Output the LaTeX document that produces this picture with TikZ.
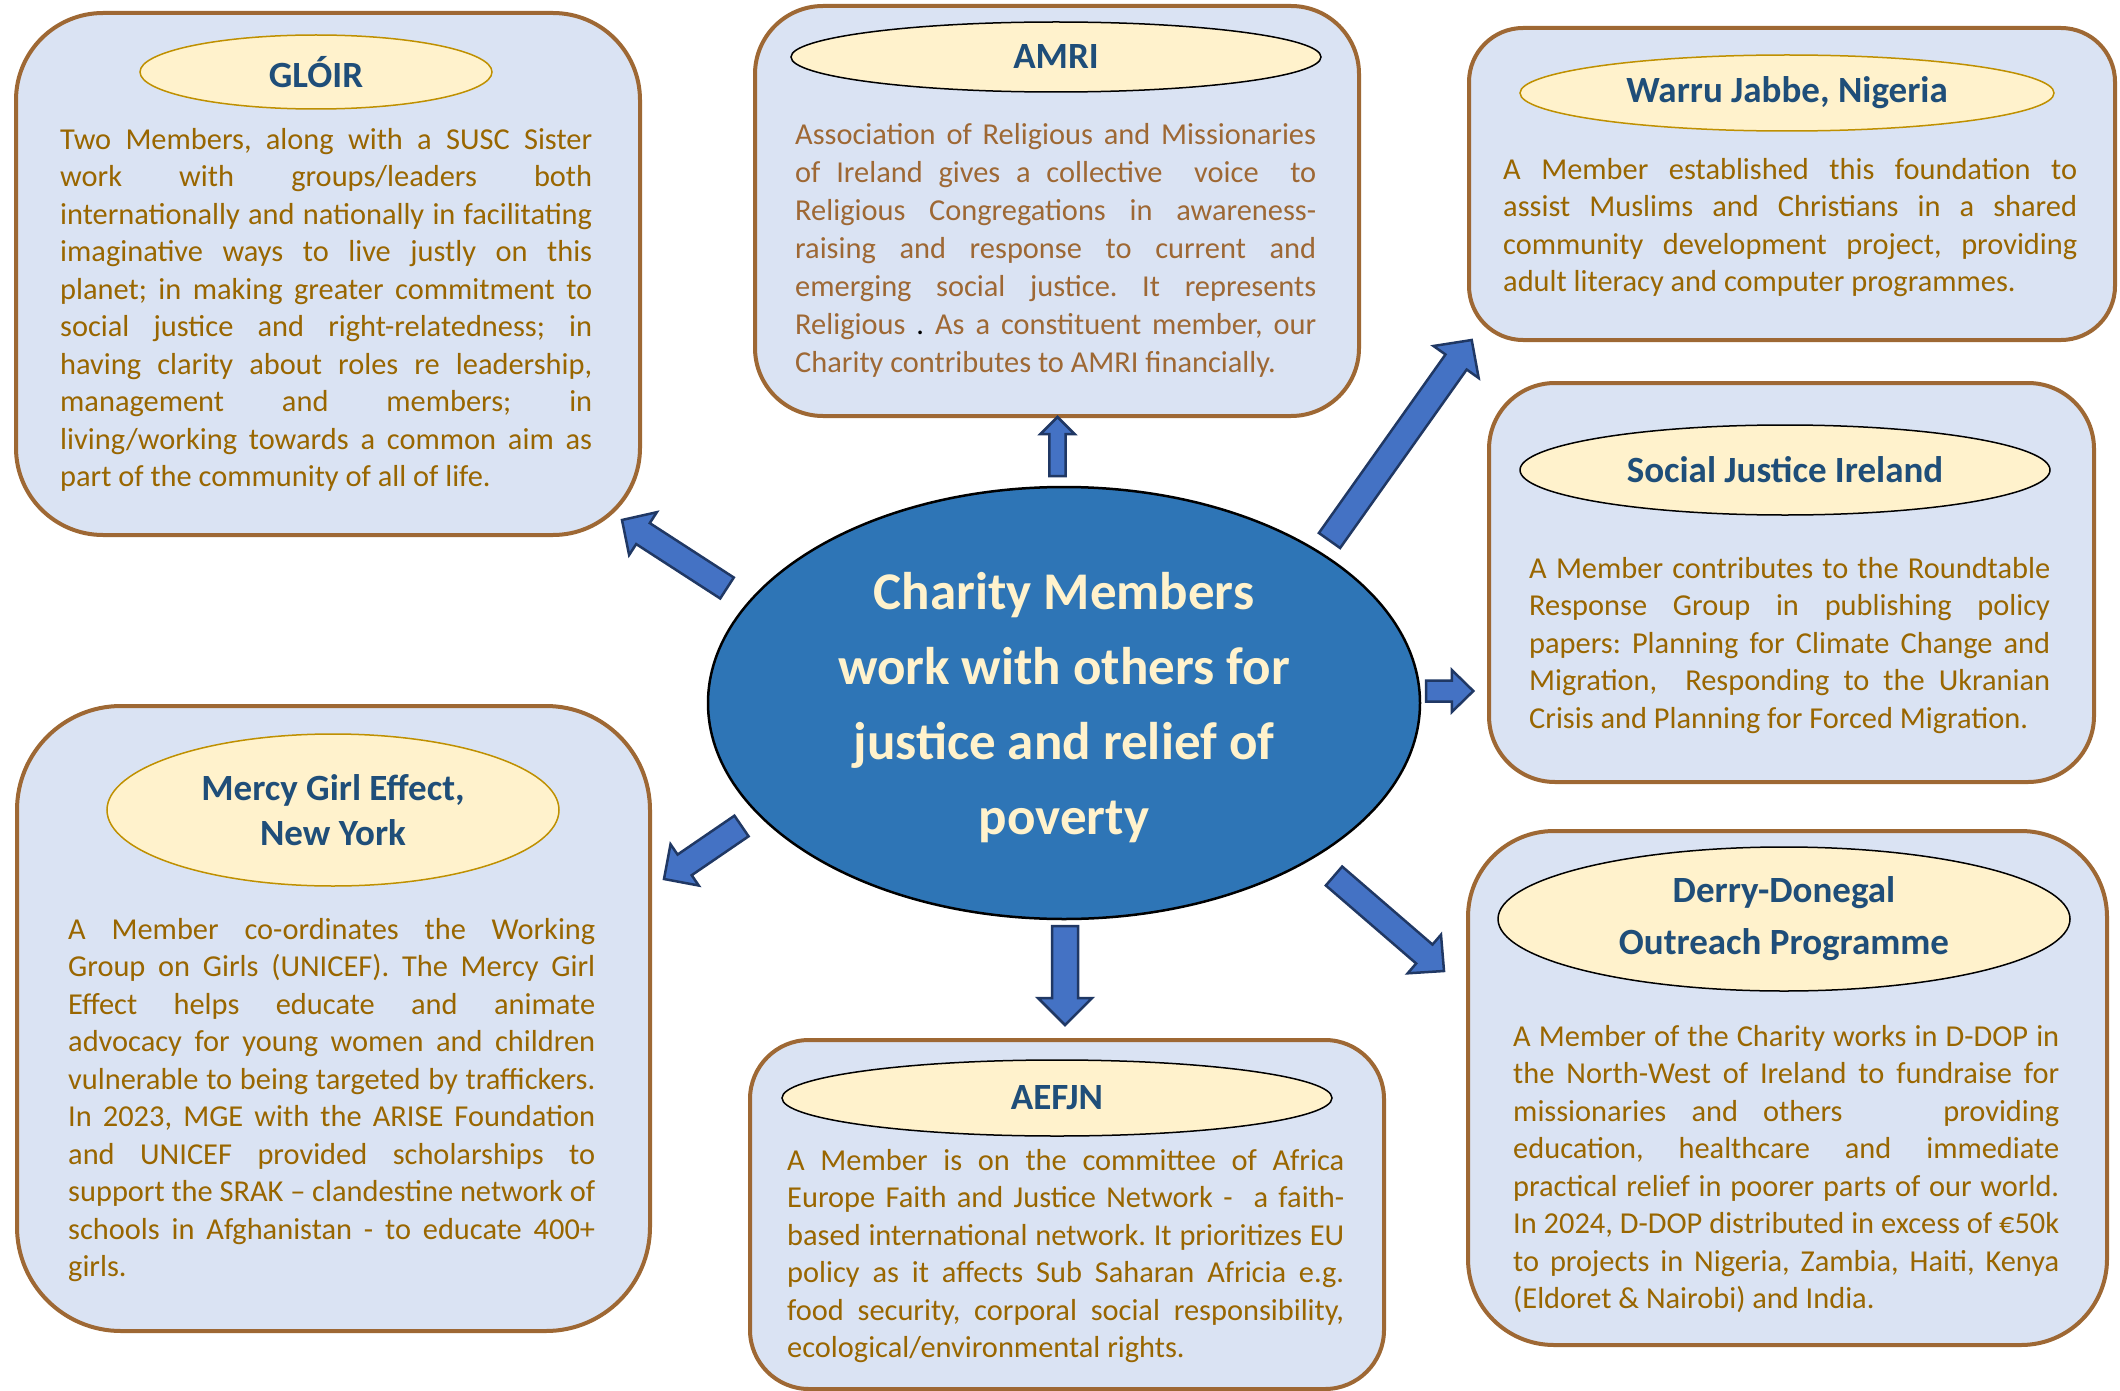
\documentclass[tikz,border=0pt]{standalone}
\usepackage{fontspec}
\setmainfont{Carlito}
\usetikzlibrary{calc,shapes.geometric}

\definecolor{cardfill}{HTML}{DAE3F3}
\definecolor{cardline}{RGB}{158,104,52}
\definecolor{tagfill}{HTML}{FFF2CC}
\definecolor{taggold}{HTML}{BF9000}
\definecolor{titleblue}{HTML}{1F4E79}
\definecolor{bodytxt}{RGB}{153,102,0}
\definecolor{amritxt}{RGB}{158,104,52}
\definecolor{hubfill}{HTML}{2E75B6}
\definecolor{hubtxt}{HTML}{FFF2CC}
\definecolor{arrfill}{HTML}{4472C4}
\definecolor{arrline}{HTML}{203864}

% plain interword spacing (undo the fixed spacing of align=left)
\newcommand\plainsp{\spaceskip=0pt\xspaceskip=0pt\frenchspacing}
% one fully justified line of a paragraph
\newcommand\jl[1]{\makebox[\hsize][s]{\plainsp #1}}

% block arrow: tail, tip, half shaft width, half head width, head length
\newcommand\blockarr[5]{%
  \coordinate (bh) at ($(#2)!#5!(#1)$);
  \draw[blockarrow] ($(#1)!#3!90:(#2)$) -- ($(bh)!#3!-90:(#1)$) -- ($(bh)!#4!-90:(#1)$)
    -- (#2) -- ($(bh)!#4!90:(#1)$) -- ($(bh)!#3!90:(#1)$) -- ($(#1)!#3!-90:(#2)$) -- cycle;}

\tikzset{
  card/.style={draw=cardline, fill=cardfill, line width=4pt, anchor=north west, inner sep=0pt},
  tag/.style={ellipse, draw=black, fill=tagfill, line width=1.5pt, inner sep=0pt,
    text=titleblue, font=\bfseries\fontsize{37}{45}\selectfont, align=center},
  taggold/.style={tag, draw=taggold},
  para/.style={anchor=north west, inner sep=0pt, align=left, text=bodytxt,
    font=\fontsize{30.4}{37.5}\selectfont},
  hub/.style={ellipse, draw=black, fill=hubfill, line width=2.5pt, inner sep=0pt},
  hubtext/.style={inner sep=0pt, text=hubtxt, align=center, font=\bfseries\fontsize{53}{75}\selectfont},
  blockarrow/.style={fill=arrfill, draw=arrline, line width=2.5pt, line join=miter}
}

\begin{document}
\begin{tikzpicture}[x=1pt,y=1pt]
\useasboundingbox (0,0) rectangle (2120,-1391);
\fill[white] (0,0) rectangle (2120,-1391);

% ---------- GLÓIR ----------
\node[card, minimum width=624pt, minimum height=522pt, rounded corners=87pt] (gloir) at (14,-11) {};
\node[taggold, minimum width=352pt, minimum height=74pt] (gloirh) at (316,-72) {GLÓIR};
\node[para, text width=532pt] (gloirt) at (60,-123) {\plainsp\strut\jl{Two Members, along with a SUSC Sister}\\
\jl{work with groups/leaders both}\\
\jl{internationally and nationally in facilitating}\\
\jl{imaginative ways to live justly on this}\\
\jl{planet; in making greater commitment to}\\
\jl{social justice and right-relatedness; in}\\
\jl{having clarity about roles re leadership,}\\
\jl{management and members; in}\\
\jl{living/working towards a common aim as}\\
part of the community of all of life.};

% ---------- AMRI ----------
\node[card, minimum width=604pt, minimum height=410pt, rounded corners=68pt] (amri) at (753,-4) {};
\node[tag, minimum width=530pt, minimum height=70pt] (amrih) at (1056,-57) {AMRI};
\node[para, text width=521pt, text=amritxt, font=\fontsize{30.4}{38}\selectfont] (amrit) at (795,-118) {\plainsp\strut\jl{Association of Religious and Missionaries}\\
\jl{of Ireland gives a collective\ \ voice\ \ to}\\
\jl{Religious Congregations in awareness-}\\
\jl{raising and response to current and}\\
\jl{emerging social justice. It represents}\\
\jl{Religious {\color{black}.} As a constituent member, our}\\
Charity contributes to AMRI financially.};

% ---------- Warru Jabbe ----------
\node[card, minimum width=646pt, minimum height=312pt, rounded corners=54pt] (warru) at (1467,-26) {};
\node[taggold, minimum width=534pt, minimum height=76pt] (warruh) at (1787,-93) {Warru Jabbe, Nigeria};
\node[para, text width=574pt] (warrut) at (1503,-153) {\plainsp\strut\jl{A Member established this foundation to}\\
\jl{assist Muslims and Christians in a shared}\\
\jl{community development project, providing}\\
adult literacy and computer programmes.};

% ---------- Social Justice Ireland ----------
\node[card, minimum width=605pt, minimum height=399pt, rounded corners=66pt] (sji) at (1487,-381) {};
\node[tag, minimum width=530pt, minimum height=90pt] (sjih) at (1785,-470) {Social Justice Ireland};
\node[para, text width=521pt] (sjit) at (1529,-552) {\plainsp\strut\jl{A Member contributes to the Roundtable}\\
\jl{Response Group in publishing policy}\\
\jl{papers: Planning for Climate Change and}\\
\jl{Migration,\ \ Responding to the Ukranian}\\
Crisis and Planning for Forced Migration.};

% ---------- Mercy Girl Effect ----------
\node[card, minimum width=633pt, minimum height=625pt, rounded corners=104pt] (mercy) at (15,-704) {};
\node[taggold, minimum width=452pt, minimum height=152pt] (mercyh) at (333,-810) {Mercy Girl Effect,\\New York};
\node[para, text width=527pt] (mercyt) at (68,-913) {\plainsp\strut\jl{A Member co-ordinates the Working}\\
\jl{Group on Girls (UNICEF). The Mercy Girl}\\
\jl{Effect helps educate and animate}\\
\jl{advocacy for young women and children}\\
\jl{vulnerable to being targeted by traffickers.}\\
\jl{In 2023, MGE with the ARISE Foundation}\\
\jl{and UNICEF provided scholarships to}\\
\jl{support the SRAK – clandestine network of}\\
\jl{schools in Afghanistan - to educate 400+}\\
girls.};

% ---------- AEFJN ----------
\node[card, minimum width=634pt, minimum height=349pt, rounded corners=59pt] (aefjn) at (748,-1038) {};
\node[tag, minimum width=550pt, minimum height=76pt] (aefjnh) at (1057,-1098) {AEFJN};
\node[para, text width=557pt] (aefjnt) at (787,-1144) {\plainsp\strut\jl{A Member is on the committee of Africa}\\
\jl{Europe Faith and Justice Network -\ \ a faith-}\\
\jl{based international network. It prioritizes EU}\\
\jl{policy as it affects Sub Saharan Africia e.g.}\\
\jl{food security, corporal social responsibility,}\\
ecological/environmental rights.};

% ---------- Derry-Donegal ----------
\node[card, minimum width=639pt, minimum height=514pt, rounded corners=86pt] (derry) at (1466,-829) {};
\node[tag, minimum width=572pt, minimum height=144pt, font=\bfseries\fontsize{37}{52}\selectfont] (derryh) at (1784,-919) {Derry-Donegal\\Outreach Programme};
\node[para, text width=546pt] (derryt) at (1513,-1020) {\plainsp\strut\jl{A Member of the Charity works in D-DOP in}\\
\jl{the North-West of Ireland to fundraise for}\\
\jl{missionaries and others\ \ \ \ providing}\\
\jl{education, healthcare and immediate}\\
\jl{practical relief in poorer parts of our world.}\\
\jl{In 2024, D-DOP distributed in excess of €50k}\\
\jl{to projects in Nigeria, Zambia, Haiti, Kenya}\\
(Eldoret \& Nairobi) and India.};

% ---------- central hub ----------
\node[hub, minimum width=712pt, minimum height=432pt] (hub) at (1064,-703) {};
\node[hubtext] (hubt) at (1064,-708) {Charity Members\\work with others for\\justice and relief of\\poverty};

% ---------- block arrows from the hub to each partner ----------
\coordinate (a1s) at (727,-588);    \coordinate (a1e) at (622,-520);
\coordinate (a2s) at (1057.5,-476); \coordinate (a2e) at (1057.5,-417);
\coordinate (a3s) at (1329.5,-540.5); \coordinate (a3e) at (1471.7,-340);
\coordinate (a4s) at (1426,-691);   \coordinate (a4e) at (1473.3,-691);
\coordinate (a5s) at (741.5,-826);  \coordinate (a5e) at (664,-879);
\coordinate (a6s) at (1065,-926);   \coordinate (a6e) at (1065,-1025);
\coordinate (a7s) at (1334,-876);   \coordinate (a7e) at (1444,-971);

\blockarr{a1s}{a1e}{12.5pt}{25.5pt}{25pt}
\blockarr{a2s}{a2e}{8.2pt}{17pt}{17pt}
\blockarr{a3s}{a3e}{13pt}{27.7pt}{27pt}
\blockarr{a4s}{a4e}{10.5pt}{21pt}{21.5pt}
\blockarr{a5s}{a5e}{12.5pt}{25pt}{25pt}
\blockarr{a6s}{a6e}{13pt}{27pt}{27pt}
\blockarr{a7s}{a7e}{12.5pt}{25.5pt}{26pt}
\end{tikzpicture}
\end{document}
